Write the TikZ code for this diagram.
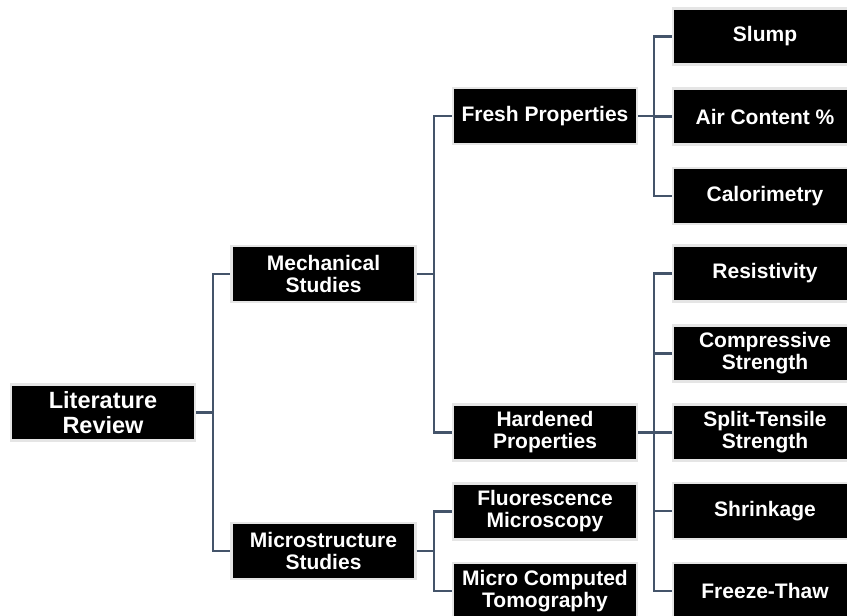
\documentclass[tikz,border=0pt]{standalone}
\usepackage{fontspec}
\setmainfont{Liberation Sans}
\usetikzlibrary{
    positioning,
    calc,
}
\definecolor{linkslate}{HTML}{44546A}

\begin{document}
\begin{tikzpicture}[
        x=1pt, y=-1pt,
        box/.style={
            fill=black, draw=black!10, line width=2.5pt,
            text=white, align=center,
            font=\fontsize{21}{22}\selectfont\bfseries,
            minimum width=184pt, minimum height=56pt, inner sep=2pt,
        },
        rootbox/.append style={
            font=\fontsize{23.5}{25}\selectfont\bfseries,
        },
        link/.style={draw=linkslate, line width=2.5pt},
    ]
        \useasboundingbox (0,0) rectangle (847,616);

        % trunk positions of the elbow connectors
        \coordinate (trunkA) at (213,0);
        \coordinate (trunkB) at (434,0);
        \coordinate (trunkC) at (654,0);

        % level 0 and 1
        \node[box, rootbox] (lit) at (103,412.5) {Literature\\Review};
        \node[box] (mech)  at (323.5,274) {Mechanical\\Studies};
        \node[box] (micro) at (323.5,551) {Microstructure\\Studies};

        % level 2
        \node[box] (fresh) at (545,116)   {Fresh Properties};
        \node[box] (hard)  at (545,432.5) {Hardened\\Properties};
        \node[box] (fluor) at (545,511.5) {Fluorescence\\Microscopy};
        \node[box] (mct)   at (545,591)   {Micro Computed\\Tomography};

        % level 3
        \node[box] (slump)  at (765,36.5)  {Slump};
        \node[box] (air)    at (765,116.5) {Air Content \%};
        \node[box] (calor)  at (765,196)   {Calorimetry};
        \node[box] (resist) at (765,273.5) {Resistivity};
        \node[box] (compr)  at (765,353.5) {Compressive\\Strength};
        \node[box] (split)  at (765,432.5) {Split-Tensile\\Strength};
        \node[box] (shrink) at (765,511)   {Shrinkage};
        \node[box] (freeze) at (765,591)   {Freeze-Thaw};

        % connectors
        \foreach \to in {mech,micro}
            \draw[link] (lit.east) -| (trunkA |- \to.west) -- (\to.west);
        \foreach \to in {fresh,hard}
            \draw[link] (mech.east) -| (trunkB |- \to.west) -- (\to.west);
        \foreach \to in {fluor,mct}
            \draw[link] (micro.east) -| (trunkB |- \to.west) -- (\to.west);
        \foreach \to in {slump,air,calor}
            \draw[link] (fresh.east) -| (trunkC |- \to.west) -- (\to.west);
        \foreach \to in {resist,compr,split,shrink,freeze}
            \draw[link] (hard.east) -| (trunkC |- \to.west) -- (\to.west);
    \end{tikzpicture}
\end{document}
